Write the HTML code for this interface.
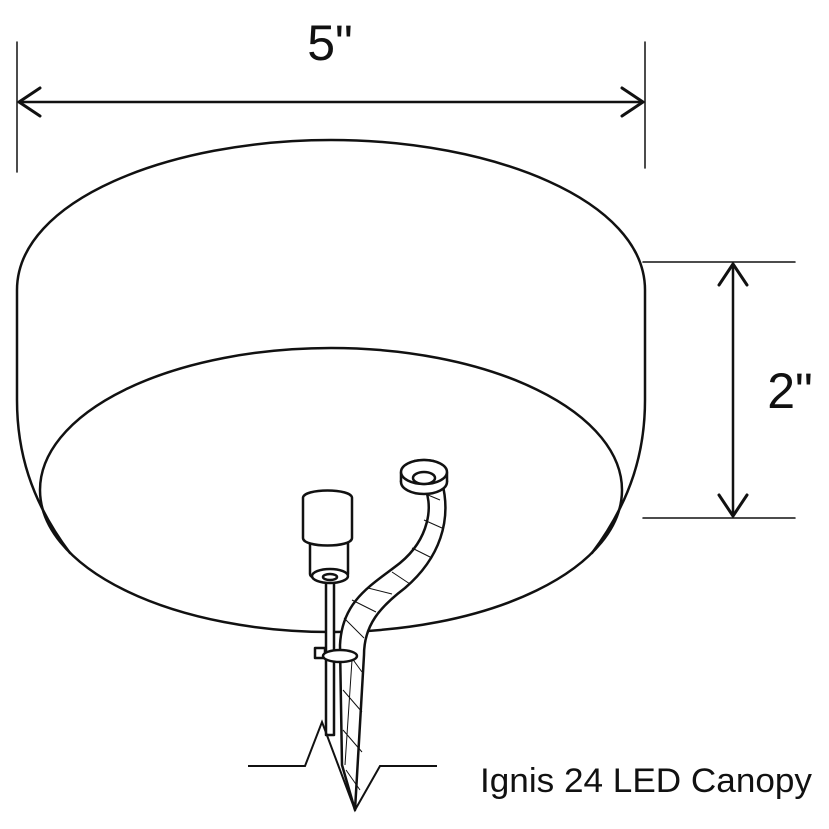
<!DOCTYPE html>
<html><head><meta charset="utf-8"><style>
html,body{margin:0;padding:0;background:#fff;width:829px;height:829px;overflow:hidden}
</style></head><body>
<svg width="829" height="829" viewBox="0 0 829 829" xmlns="http://www.w3.org/2000/svg">
<g fill="none" stroke="#111" stroke-width="2.5" stroke-linecap="round" stroke-linejoin="round">
<line x1="17" y1="42" x2="17" y2="172" stroke-width="1.5"/>
<line x1="645" y1="42" x2="645" y2="168" stroke-width="1.5"/>
<line x1="19" y1="102" x2="643" y2="102" stroke-width="2.5"/>
<polyline points="40,88 19,102 40,116" stroke-width="3"/>
<polyline points="622,88 643,102 622,116" stroke-width="3"/>
<line x1="643" y1="262" x2="795" y2="262" stroke-width="1.5"/>
<line x1="643" y1="518" x2="795" y2="518" stroke-width="1.5"/>
<line x1="733" y1="264" x2="733" y2="516" stroke-width="2.5"/>
<polyline points="719,285 733,264 747,285" stroke-width="3"/>
<polyline points="719,495 733,516 747,495" stroke-width="3"/>
<path d="M70,553 C30,500 17,450 17,400 L17,290 C17,200 170,140 331,140 C492,140 645,200 645,290 L645,400 C645,450 632,500 592,553"/>
<ellipse cx="331" cy="490" rx="291" ry="142"/>
</g>
<g stroke="#111" stroke-width="2.5" fill="#fff" stroke-linejoin="round">
<path d="M422,482 C436,505 428,540 400,563 C372,585 342,600 340,645 L342,765 L355,810 L364,655 C364,625 380,607 405,588 C440,558 452,520 442,482 Z"/>
<path d="M345,765 L352,660 M346,650 L362,672 M343,690 L362,712 M343,730 L362,752 M346,770 L360,790 M344,618 L364,638 M352,600 L376,612 M368,588 L392,594 M392,572 L410,584 M412,548 L432,558 M424,520 L442,528 M428,495 L440,500" fill="none" stroke-width="1"/>
<ellipse cx="424" cy="482" rx="23" ry="12"/>
<path d="M401,482 L401,474 C401,466 411,460 424,460 C437,460 447,466 447,474 L447,482"/>
<ellipse cx="424" cy="472" rx="23" ry="12"/>
<ellipse cx="424" cy="478" rx="11" ry="6"/>
<rect x="326" y="575" width="8" height="160"/>
<rect x="315" y="648" width="10" height="10"/>
<ellipse cx="340" cy="656" rx="17" ry="6"/>
<rect x="310" y="535" width="38" height="42" rx="3"/>
<ellipse cx="330" cy="576" rx="18" ry="7"/>
<ellipse cx="330" cy="577" rx="7" ry="3"/>
<path d="M303,498 C303,488 352,488 352,498 L352,538 C352,548 303,548 303,538 Z"/>
</g>
<polyline points="248,766 305,766 322,722 355,810 380,766 437,766" fill="none" stroke="#111" stroke-width="2" stroke-linejoin="miter"/>
<text x="330" y="60" font-family="Liberation Sans, sans-serif" font-size="50" text-anchor="middle" fill="#111">5"</text>
<text x="790" y="408" font-family="Liberation Sans, sans-serif" font-size="50" text-anchor="middle" fill="#111">2"</text>
<text x="480" y="792" font-family="Liberation Sans, sans-serif" font-size="34" fill="#111" textLength="332" lengthAdjust="spacingAndGlyphs">Ignis 24 LED Canopy</text>
</svg>
</body></html>
